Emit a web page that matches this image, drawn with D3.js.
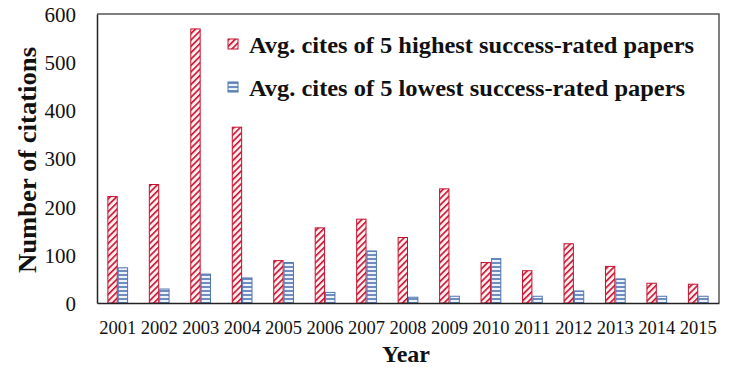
<!DOCTYPE html>
<html>
<head>
<meta charset="utf-8">
<script src="https://cdn.jsdelivr.net/npm/d3@7"></script>
<style>
  body { margin: 0; background: #fff; }
  text { font-family: "Liberation Serif", "DejaVu Serif", serif; fill: #111; }
</style>
</head>
<body>
<div id="chart"></div>
<script>
// data
var years = ["2001", "2002", "2003", "2004", "2005", "2006", "2007", "2008",
    "2009", "2010", "2011", "2012", "2013", "2014", "2015"];
var highest = [221, 246, 569, 365, 88, 156, 174, 136, 237, 84, 67, 123, 76, 41, 39];
var lowest = [73, 29, 60, 52, 84, 22, 108, 12, 14, 92, 14, 25, 50, 14, 14];
var seriesNames = ["Avg. cites of 5 highest success-rated papers",
    "Avg. cites of 5 lowest success-rated papers"];
var yTicks = [0, 100, 200, 300, 400, 500, 600];

var W = 740, H = 367;
var margin = { top: 14, right: 21, bottom: 64, left: 97 };
var plot = { width: W - margin.left - margin.right, height: H - margin.top - margin.bottom };
var serif = "'Liberation Serif', 'DejaVu Serif', serif";

var svg = d3.select("#chart")
    .append("svg")
    .attr("width", W)
    .attr("height", H);

var defs = svg.append("defs");

// red diagonal hatch  (/ direction)
var p1 = defs.append("pattern")
    .attr("id", "hatchRed")
    .attr("patternUnits", "userSpaceOnUse")
    .attr("width", 4.5)
    .attr("height", 4.5)
    .attr("patternTransform", "rotate(45)");
p1.append("rect").attr("width", 4.5).attr("height", 4.5).attr("fill", "#fff0f0");
p1.append("line")
    .attr("x1", 0).attr("y1", 0).attr("x2", 0).attr("y2", 4.5)
    .attr("stroke", "#c8102e")
    .attr("stroke-width", 3.2);

// blue horizontal stripes
var p2 = defs.append("pattern")
    .attr("id", "hatchBlue")
    .attr("patternUnits", "userSpaceOnUse")
    .attr("width", 4)
    .attr("height", 4);
p2.append("rect").attr("width", 4).attr("height", 4).attr("fill", "#eef3fb");
p2.append("line")
    .attr("x1", 0).attr("y1", 1).attr("x2", 4).attr("y2", 1)
    .attr("stroke", "#4f74b0")
    .attr("stroke-width", 1.6);

var g = svg.append("g")
    .attr("transform", "translate(" + margin.left + "," + margin.top + ")");

var x0 = d3.scaleBand()
    .domain(years)
    .range([0, plot.width])
    .paddingInner(0.5)
    .paddingOuter(0.25);

var x1 = d3.scaleBand()
    .domain([0, 1])
    .range([0, x0.bandwidth()]);

var y = d3.scaleLinear()
    .domain([0, 600])
    .range([plot.height, 0]);

// frame (top and right)
g.append("path")
    .attr("d", "M0,0H" + plot.width + "V" + plot.height)
    .attr("fill", "none")
    .attr("stroke", "#555")
    .attr("stroke-width", 1.5);

var groups = g.selectAll(".year")
    .data(years)
    .enter()
    .append("g")
    .attr("transform", function (d) { return "translate(" + x0(d) + ",0)"; });

groups.append("rect")
    .attr("x", x1(0) + 0.5)
    .attr("y", function (d, i) { return y(highest[i]); })
    .attr("width", x1.bandwidth() - 1)
    .attr("height", function (d, i) { return plot.height - y(highest[i]); })
    .attr("fill", "url(#hatchRed)")
    .attr("stroke", "#c8102e")
    .attr("stroke-width", 1);

groups.append("rect")
    .attr("x", x1(1) + 0.5)
    .attr("y", function (d, i) { return y(lowest[i]); })
    .attr("width", x1.bandwidth() - 1)
    .attr("height", function (d, i) { return plot.height - y(lowest[i]); })
    .attr("fill", "url(#hatchBlue)")
    .attr("stroke", "#4f74b0")
    .attr("stroke-width", 1);

// axes
var yAxis = g.append("g")
    .call(d3.axisLeft(y).tickValues(yTicks).tickSize(0).tickPadding(21));
yAxis.attr("font-family", serif);
yAxis.select(".domain").attr("stroke", "#222").attr("stroke-width", 1.5);
yAxis.selectAll(".tick text").style("font-size", "21px").style("font-family", serif).attr("dy", "0.35em");

var xAxis = g.append("g")
    .attr("transform", "translate(0," + plot.height + ")")
    .call(d3.axisBottom(x0).tickSize(0).tickPadding(18));
xAxis.attr("font-family", serif);
xAxis.select(".domain").attr("stroke", "#222").attr("stroke-width", 1.5);
xAxis.selectAll(".tick text").style("font-size", "18.5px").style("font-family", serif);

// axis titles
svg.append("text")
    .attr("transform", "translate(36,160) rotate(-90)")
    .attr("text-anchor", "middle")
    .attr("textLength", 226)
    .attr("lengthAdjust", "spacingAndGlyphs")
    .style("font-size", "26px")
    .style("font-weight", "bold")
    .text("Number of citations");

svg.append("text")
    .attr("x", margin.left + plot.width / 2 - 2)
    .attr("y", 362)
    .attr("text-anchor", "middle")
    .style("font-size", "24px")
    .style("font-weight", "bold")
    .text("Year");

// legend
var legend = svg.append("g")
    .attr("transform", "translate(228,39)");

var fills = ["url(#hatchRed)", "url(#hatchBlue)"];
var strokes = ["#c8102e", "#4f74b0"];
var legendWidths = [445, 436];

seriesNames.forEach(function (name, i) {
    var row = legend.append("g").attr("transform", "translate(0," + i * 43 + ")");
    row.append("rect")
        .attr("width", 10)
        .attr("height", 10)
        .attr("fill", fills[i])
        .attr("stroke", strokes[i]);
    row.append("text")
        .attr("x", 21)
        .attr("y", 14)
        .attr("textLength", legendWidths[i])
        .attr("lengthAdjust", "spacingAndGlyphs")
        .style("font-size", "24px")
        .style("font-weight", "bold")
        .text(name);
});
</script>
</body>
</html>
